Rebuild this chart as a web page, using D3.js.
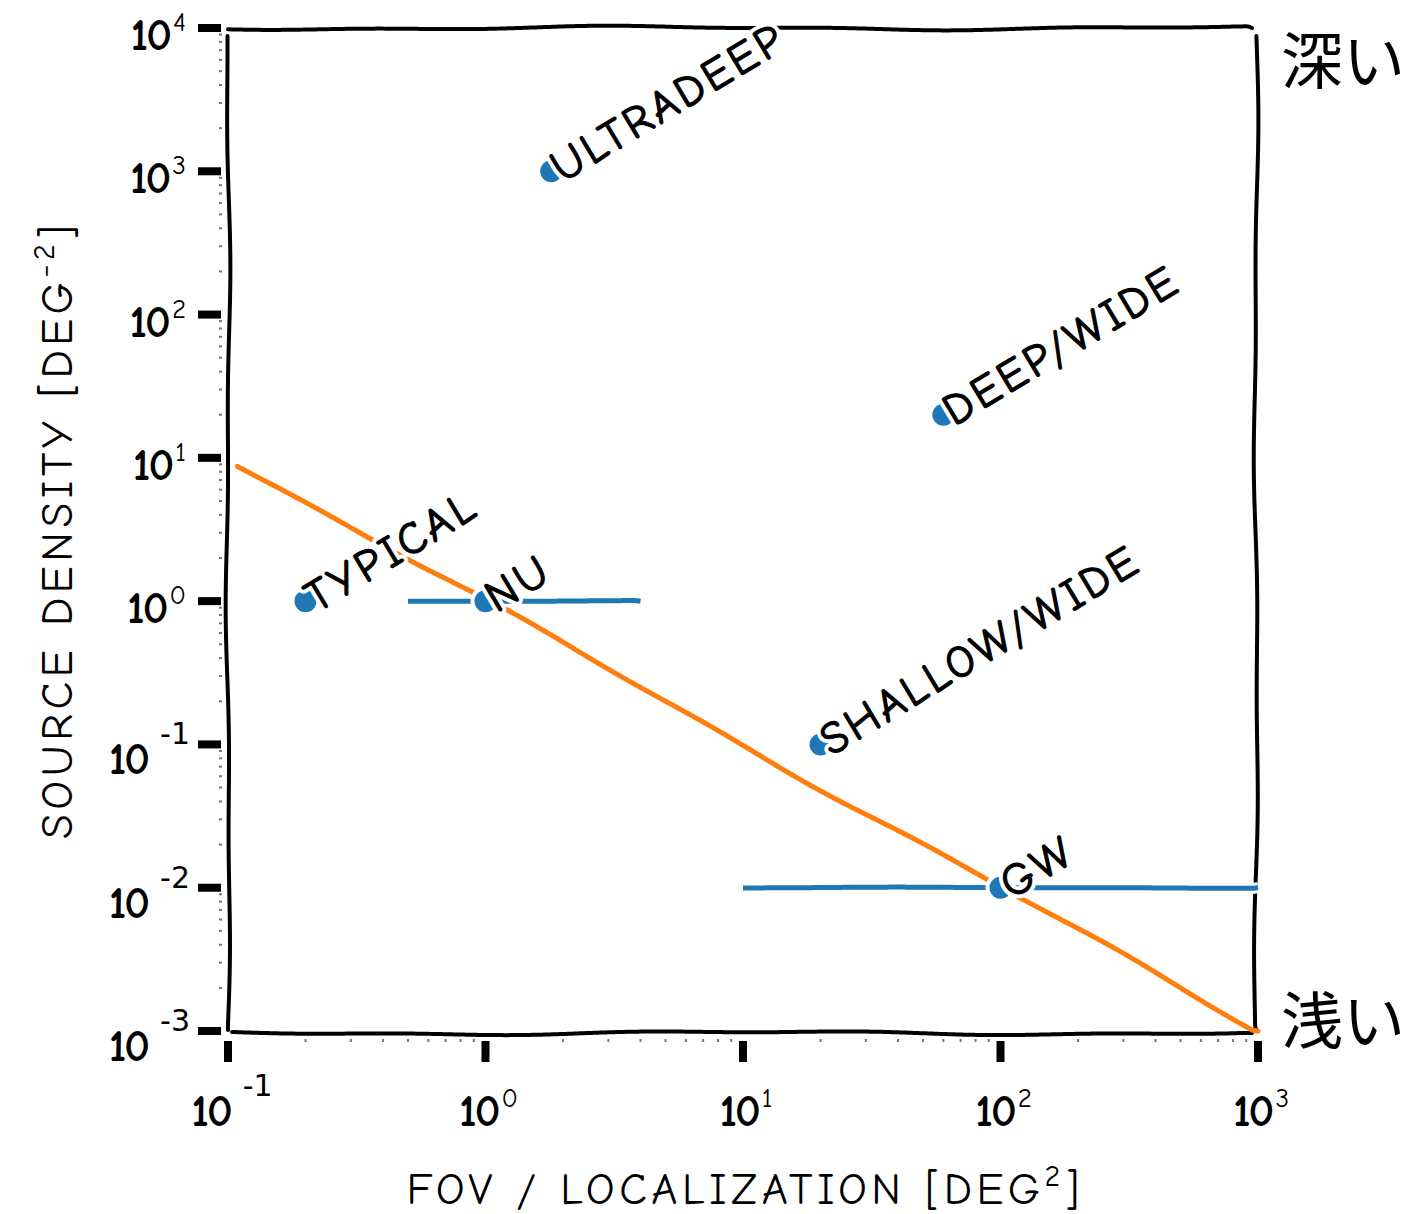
<!DOCTYPE html>
<html>
<head>
<meta charset="utf-8">
<script src="https://cdn.jsdelivr.net/npm/d3@7"></script>
<style>
  body { margin: 0; background: #fff; }
  svg { display: block; }
  .hand { font-family: "Humor Sans", "Comic Neue", "DejaVu Sans", sans-serif; }
</style>
</head>
<body>
<div id="chart"></div>
<script>
// survey data (log-log)
var surveyNames = ["ULTRADEEP", "DEEP/WIDE", "SHALLOW/WIDE", "TYPICAL", "NU", "GW"];
var fovValues = [1.8, 60, 20, 0.2, 1, 100];
var densityValues = [1000, 20, 0.1, 1, 1, 0.01];
var errLow = [null, null, null, null, 0.5, 10];
var errHigh = [null, null, null, null, 4, 1000];

// orange reference curve
var curveX = [0.11, 1, 10, 100, 1000];
var curveY = [9, 1, 0.1, 0.01, 0.001];

var xTickExp = [-1, 0, 1, 2, 3];
var yTickExp = [-3, -2, -1, 0, 1, 2, 3, 4];

const W = 1411, H = 1214;
const svg = d3.select("#chart").append("svg")
    .attr("width", W).attr("height", H);

const x = d3.scaleLog().domain([0.1, 1000]).range([228, 1258]);
const y = d3.scaleLog().domain([1e-3, 1e4]).range([1031, 28]);

// xkcd-ish wobble: resample a polyline and push points along the normal
function wobble(pts, amp, phase) {
    var out = [];
    var s = 0;
    for (var i = 0; i < pts.length - 1; i++) {
        var p0 = pts[i], p1 = pts[i + 1];
        var dx = p1[0] - p0[0], dy = p1[1] - p0[1];
        var len = Math.hypot(dx, dy);
        var nx = -dy / len, ny = dx / len;
        var n = Math.max(2, Math.ceil(len / 4));
        for (var k = 0; k < n; k++) {
            var t = k / n;
            var ss = s + t * len;
            var off = amp * (0.65 * Math.sin(ss / 95 + phase) + 0.35 * Math.sin(ss / 37 + phase * 2.3));
            out.push([p0[0] + dx * t + nx * off, p0[1] + dy * t + ny * off]);
        }
        s += len;
    }
    out.push(pts[pts.length - 1]);
    return out;
}
const line = d3.line().curve(d3.curveBasis);

// spines
const spines = [
    [[228, 28], [1252, 28]],
    [[228, 36], [228, 1030]],
    [[1256, 36], [1256, 1030]],
    [[232, 1033], [1252, 1033]]
];
spines.forEach(function (sp, i) {
    svg.append("path")
        .attr("d", line(wobble(sp, 2.4, i * 1.7 + 0.4)))
        .attr("fill", "none")
        .attr("stroke", "#000")
        .attr("stroke-width", 4)
        .attr("stroke-linecap", "round");
});

// minor ticks
const minor = [];
for (var e = -1; e < 3; e++) for (var m = 2; m < 10; m++) minor.push(m * Math.pow(10, e));
svg.selectAll(".xminor").data(minor).enter().append("rect")
    .attr("x", d => x(d) - 1).attr("y", 1039).attr("width", 2).attr("height", 3)
    .attr("fill", "#777");
const minorY = [];
for (var e2 = -3; e2 < 4; e2++) for (var m2 = 2; m2 < 10; m2++) minorY.push(m2 * Math.pow(10, e2));
svg.selectAll(".yminor").data(minorY).enter().append("rect")
    .attr("x", 219).attr("y", d => y(d) - 1).attr("width", 3).attr("height", 2)
    .attr("fill", "#777");

// major ticks
svg.selectAll(".xmajor").data(xTickExp).enter().append("rect")
    .attr("x", d => x(Math.pow(10, d)) - 4).attr("y", 1041).attr("width", 8).attr("height", 21)
    .attr("fill", "#000");
svg.selectAll(".ymajor").data(yTickExp).enter().append("rect")
    .attr("x", 198).attr("y", d => y(Math.pow(10, d)) - 4).attr("width", 23).attr("height", 8)
    .attr("fill", "#000");

// tick labels
function tickLabel(sel, d) {
    sel.append("tspan").text("10");
    if (d < 0) {
        sel.append("tspan")
            .attr("dx", 12).attr("dy", -30)
            .style("font-family", "DejaVu Sans, sans-serif")
            .style("font-weight", "normal")
            .style("letter-spacing", "0px")
            .style("font-size", "30px")
            .text(String(d));
    } else {
        sel.append("tspan")
            .attr("dx", 3).attr("dy", -19)
            .style("font-weight", "normal")
            .style("font-size", "27px")
            .text(String(d));
    }
}
svg.selectAll(".ylab").data(yTickExp).enter().append("text")
    .attr("class", "hand")
    .attr("x", d => d < 0 ? 190 : 184)
    .attr("y", d => y(Math.pow(10, d)) + (d < 0 ? 30 : 22))
    .attr("text-anchor", "end")
    .style("font-size", "45px")
    .style("font-weight", "bold")
    .style("letter-spacing", "-2px")
    .each(function (d) { tickLabel(d3.select(this), d); });
svg.selectAll(".xlab").data(xTickExp).enter().append("text")
    .attr("class", "hand")
    .attr("x", d => x(Math.pow(10, d)) + (d < 0 ? 4 : 2))
    .attr("y", 1126)
    .attr("text-anchor", "middle")
    .style("font-size", "45px")
    .style("font-weight", "bold")
    .style("letter-spacing", "-2px")
    .each(function (d) { tickLabel(d3.select(this), d); });

// axis titles
const xt = svg.append("text").attr("class", "hand")
    .attr("x", 745).attr("y", 1204).attr("text-anchor", "middle")
    .style("font-size", "45px").style("letter-spacing", "4.5px")
    .text("FOV / LOCALIZATION [DEG");
xt.append("tspan").attr("dy", -18).style("font-size", "30px").text("2");
xt.append("tspan").attr("dy", 18).text("]");

const yt = svg.append("text").attr("class", "hand")
    .attr("transform", "translate(72,530) rotate(-90)")
    .attr("text-anchor", "middle")
    .style("font-size", "45px").style("letter-spacing", "4.5px")
    .text("SOURCE DENSITY [DEG");
yt.append("tspan").attr("dy", -18).style("font-size", "30px").text("\u22122");
yt.append("tspan").attr("dy", 18).text("]");

// orange curve
const curvePts = curveX.map((v, i) => [x(v), y(curveY[i])]);
svg.append("path")
    .attr("d", line(wobble(curvePts, 3, 1.1)))
    .attr("fill", "none")
    .attr("stroke", "#ff7f0e")
    .attr("stroke-width", 5)
    .attr("stroke-linecap", "round");

// error bars
const survey = surveyNames.map((n, i) => ({
    name: n, fov: fovValues[i], dens: densityValues[i], lo: errLow[i], hi: errHigh[i]
}));
const withErr = survey.filter(d => d.lo !== null);
withErr.forEach(function (d, i) {
    const pts = wobble([[x(d.lo), y(d.dens)], [x(d.hi), y(d.dens)]], 0.6, i + 2);
    svg.append("path").attr("d", line(pts))
        .attr("fill", "none").attr("stroke", "#fff").attr("stroke-width", 11);
    svg.append("path").attr("d", line(pts))
        .attr("fill", "none").attr("stroke", "#1f77b4").attr("stroke-width", 5);
});

// points
svg.selectAll(".pt").data(survey).enter().append("circle")
    .attr("cx", d => x(d.fov)).attr("cy", d => y(d.dens)).attr("r", 13)
    .attr("fill", "#1f77b4").attr("stroke", "#fff").attr("stroke-width", 4);

// labels (white halo first, then ink)
const lblPos = d => `translate(${x(d.fov) + 11},${y(d.dens) + 12}) rotate(-31)`;
svg.selectAll(".lbl").data(survey).enter().append("text")
    .attr("class", "hand")
    .attr("transform", lblPos)
    .style("font-size", "45px")
    .style("letter-spacing", "3.5px")
    .attr("fill", "#fff")
    .attr("stroke", "#fff").attr("stroke-width", 9)
    .attr("stroke-linejoin", "round")
    .text(d => d.name);
svg.selectAll(".lbl2").data(survey).enter().append("text")
    .attr("class", "hand")
    .attr("transform", lblPos)
    .style("font-size", "45px")
    .style("letter-spacing", "3.5px")
    .attr("fill", "#000")
    .attr("stroke", "#000").attr("stroke-width", 1.2)
    .text(d => d.name);

// side annotations
const jp = "'Noto Sans CJK JP', sans-serif";
svg.append("text").attr("x", 1281).attr("y", 84)
    .style("font-family", jp).style("font-size", "62px").text("深い");
svg.append("text").attr("x", 1281).attr("y", 1044)
    .style("font-family", jp).style("font-size", "62px").text("浅い");
</script>
</body>
</html>
